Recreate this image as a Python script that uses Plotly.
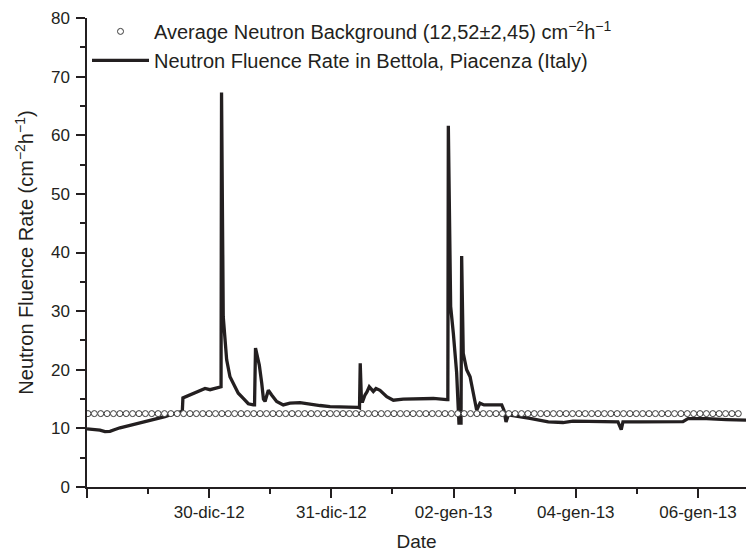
import numpy as np
import plotly.graph_objects as go

# ---- data (x in tick-interval units; tick k labelled by TICK_TEXT[k]) ----
TICK_VALS = [0, 1, 2, 3, 4, 5]
TICK_TEXT = ["", "30-dic-12", "31-dic-12", "02-gen-13", "04-gen-13", "06-gen-13"]

rate_x = [0.000, 0.065, 0.106, 0.147, 0.188, 0.229, 0.270, 0.352, 0.434, 0.516,
          0.597, 0.638, 0.679, 0.720, 0.761, 0.780, 0.785, 0.843, 0.884, 0.925,
          0.966, 1.007, 1.047, 1.088, 1.097, 1.101, 1.115, 1.143, 1.170, 1.211,
          1.238, 1.279, 1.320, 1.361, 1.371, 1.379, 1.394, 1.410, 1.430, 1.444,
          1.457, 1.484, 1.511, 1.552, 1.606, 1.661, 1.743, 1.825, 1.907, 1.989,
          2.125, 2.218, 2.230, 2.236, 2.246, 2.256, 2.275, 2.291, 2.310, 2.343,
          2.365, 2.398, 2.453, 2.507, 2.588, 2.725, 2.834, 2.944, 2.953, 2.957,
          2.976, 2.998, 3.025, 3.038, 3.044, 3.061, 3.066, 3.079, 3.107, 3.135,
          3.161, 3.189, 3.216, 3.249, 3.284, 3.353, 3.394, 3.412, 3.429, 3.448,
          3.516, 3.625, 3.775, 3.895, 3.977, 4.116, 4.247, 4.345, 4.372, 4.386,
          4.523, 4.689, 4.877, 4.918, 5.068, 5.232, 5.393]
rate_y = [9.9, 9.8, 9.7, 9.45, 9.5, 9.8, 10.1, 10.5, 10.9, 11.3,
          11.7, 12.0, 12.3, 12.6, 12.9, 12.9, 15.2, 15.7, 16.0, 16.5,
          16.8, 16.6, 16.8, 17.0, 17.1, 67.3, 29.0, 21.7, 18.8, 17.1,
          16.0, 15.1, 14.2, 14.0, 14.0, 23.7, 22.2, 20.8, 17.7, 15.0,
          14.6, 16.5, 15.7, 14.6, 14.0, 14.3, 14.4, 14.1, 13.9, 13.7,
          13.7, 13.6, 13.5, 21.1, 14.6, 14.6, 15.7, 16.2, 17.1, 16.3,
          16.8, 16.5, 15.4, 14.8, 15.0, 15.1, 15.1, 14.9, 14.9, 61.6,
          30.8, 26.2, 19.5, 13.5, 10.9, 10.9, 39.4, 22.8, 20.0, 18.8,
          16.0, 13.1, 14.3, 14.0, 14.0, 14.0, 14.0, 13.1, 11.1, 12.3,
          12.1, 11.7, 11.1, 11.0, 11.25, 11.2, 11.15, 11.1, 9.8, 11.1,
          11.1, 11.15, 11.15, 11.65, 11.65, 11.5, 11.4]

BACKGROUND_MEAN = 12.52
BG_COUNT = 103
BG_START, BG_END = 0.008, 5.33

bg_x = np.linspace(BG_START, BG_END, BG_COUNT)
bg_y = [BACKGROUND_MEAN] * BG_COUNT

INK = "#231f20"
FONT = "Liberation Sans, Arial, sans-serif"

fig = go.Figure()
fig.add_trace(go.Scatter(
    x=rate_x, y=rate_y, mode="lines",
    line=dict(color=INK, width=3.3),
    name="Neutron Fluence Rate in Bettola, Piacenza (Italy)",
))
fig.add_trace(go.Scatter(
    x=bg_x, y=bg_y, mode="markers",
    marker=dict(symbol="circle", size=6, color="white",
                line=dict(color="#3a3a3a", width=1)),
    name="Average Neutron Background (12,52±2,45) cm<sup>−2</sup>h<sup>−1</sup>",
))

axis_common = dict(
    showline=True, linecolor=INK, linewidth=1.5,
    ticks="outside", ticklen=9, tickwidth=1.5, tickcolor=INK,
    showgrid=False, zeroline=False,
    tickfont=dict(family=FONT, size=17, color=INK),
)

fig.update_layout(
    width=746, height=552, autosize=False,
    margin=dict(l=87, r=0, t=18, b=65),
    paper_bgcolor="white", plot_bgcolor="white",
    font=dict(family=FONT, color=INK),
    showlegend=True,
    legend=dict(
        x=0.0, y=1.013, xanchor="left", yanchor="top",
        traceorder="reversed",
        font=dict(family=FONT, size=20, color=INK),
        bgcolor="rgba(0,0,0,0)", itemwidth=57,
    ),
    xaxis=dict(
        range=[0, 5.393],
        tickmode="array", tickvals=TICK_VALS, ticktext=TICK_TEXT,
        minor=dict(dtick=0.5, tick0=0, ticks="outside", ticklen=5,
                   tickwidth=1.5, tickcolor=INK, showgrid=False),
        title=dict(text="Date", font=dict(family=FONT, size=19, color=INK), standoff=14),
        **axis_common,
    ),
    yaxis=dict(
        range=[0, 80], dtick=10, tick0=0,
        minor=dict(dtick=5, tick0=0, ticks="outside", ticklen=5,
                   tickwidth=1.5, tickcolor=INK, showgrid=False),
        ticklabelstandoff=3,
        title=dict(text="Neutron Fluence Rate (cm<sup>−2</sup>h<sup>−1</sup>)",
                   font=dict(family=FONT, size=20, color=INK), standoff=12),
        **axis_common,
    ),
)

fig.write_html("out.html")
